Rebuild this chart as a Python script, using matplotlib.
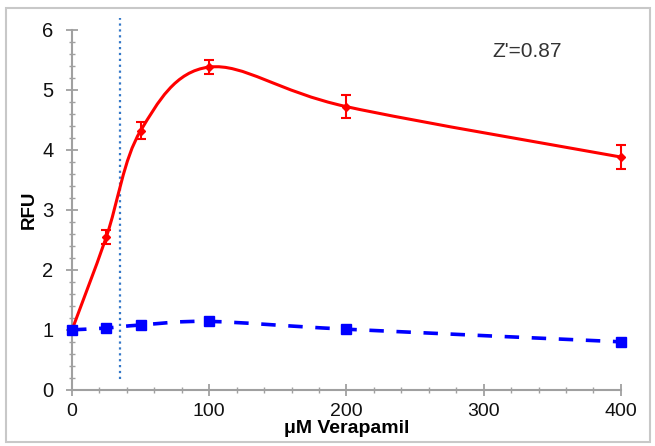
import numpy as np
import matplotlib
matplotlib.use("Agg")
import matplotlib.pyplot as plt
from matplotlib.path import Path
from matplotlib.patches import PathPatch, Rectangle
from matplotlib.ticker import MultipleLocator

# ---- data ----
conc = [0, 25, 50, 100, 200, 400]          # uM verapamil
rfu_red = [1.00, 2.55, 4.32, 5.38, 4.72, 3.88]
err_red = [0.0, 0.12, 0.14, 0.12, 0.19, 0.20]
rfu_blue = [1.00, 1.03, 1.08, 1.14, 1.01, 0.80]
cutoff_x = 35
z_text = "Z'=0.87"

plt.rcParams['font.family'] = ['Liberation Sans', 'DejaVu Sans']


def smooth_path(xs, ys):
    # Excel-style smoothed line: cubic Bezier through points (Catmull-Rom)
    pts = np.column_stack([xs, ys]).astype(float)
    n = len(pts)
    verts = [pts[0]]
    codes = [Path.MOVETO]
    for i in range(n - 1):
        p0 = pts[i - 1] if i > 0 else pts[i]
        p1 = pts[i]
        p2 = pts[i + 1]
        p3 = pts[i + 2] if i + 2 < n else pts[i + 1]
        c1 = p1 + (p2 - p0) / 6.0
        c2 = p2 - (p3 - p1) / 6.0
        verts += [c1, c2, p2]
        codes += [Path.CURVE4] * 3
    return Path(verts, codes)


fig = plt.figure(figsize=(6.55, 4.46), dpi=100)
ax = fig.add_axes([0.110, 0.126, 0.838, 0.807])

# red curve with error bars
ax.add_patch(PathPatch(smooth_path(conc, rfu_red), fill=False,
                       edgecolor='#ff0000', lw=2.2, zorder=3))
ax.errorbar(conc, rfu_red, yerr=err_red, fmt='D', color='#ff0000',
            ms=4.5, elinewidth=1.5, capsize=3.5, capthick=1.5,
            zorder=4, clip_on=False)

# blue dashed curve
ax.add_patch(PathPatch(smooth_path(conc, rfu_blue), fill=False,
                       edgecolor='#0000ff', lw=2.6, ls=(0, (4, 3.5)), zorder=3))
ax.plot(conc, rfu_blue, 's', color='#0000ff', ms=7, zorder=5, clip_on=False)

# dotted cutoff line
ax.plot([cutoff_x, cutoff_x], [0.18, 6.2], ls=':', color='#3478c8', lw=1.6,
        clip_on=False, zorder=2)

ax.text(306, 5.64, z_text, fontsize=15, color='#333333', va='center')

ax.set_xlim(0, 400)
ax.set_ylim(0, 6)
for s in ['top', 'right']:
    ax.spines[s].set_visible(False)
for s in ['left', 'bottom']:
    ax.spines[s].set_color('#a0a0a0')
    ax.spines[s].set_linewidth(1.5)

ax.xaxis.set_major_locator(MultipleLocator(100))
ax.xaxis.set_minor_locator(MultipleLocator(20))
ax.yaxis.set_major_locator(MultipleLocator(1))
ax.yaxis.set_minor_locator(MultipleLocator(0.2))
ax.tick_params(which='major', direction='inout', length=9, width=1.3,
               color='#a0a0a0', labelsize=14.5, labelcolor='#111111')
ax.tick_params(which='minor', direction='inout', length=5, width=1.0,
               color='#a0a0a0')
ax.tick_params(axis='y', which='major', pad=9)
ax.tick_params(axis='x', which='major', pad=5, labelsize=14)

ax.set_xlabel('μM Verapamil', fontsize=14, fontweight='bold', labelpad=0)
ax.set_ylabel('RFU', fontsize=13.5, fontweight='bold', labelpad=3)

# light frame around the whole picture
fig.add_artist(Rectangle((0.009, 0.008), 0.983, 0.975, transform=fig.transFigure,
                         fill=False, ec='#c8c8c8', lw=1.5))

fig.savefig('out.png', dpi=100)
